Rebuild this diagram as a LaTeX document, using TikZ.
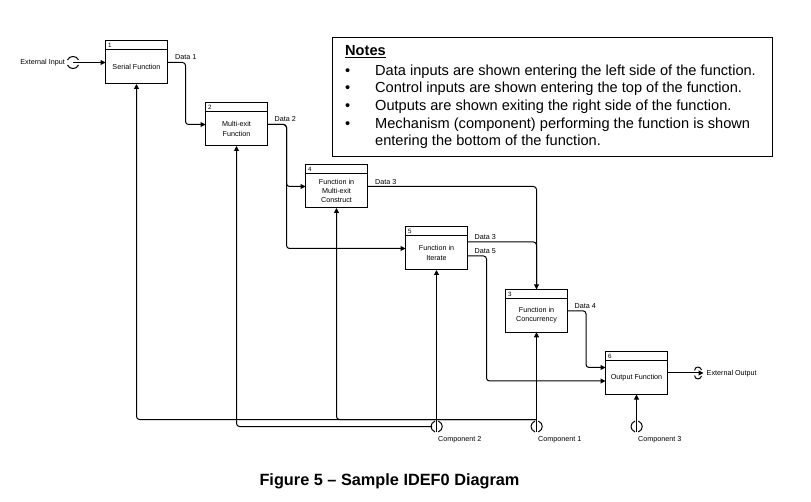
\documentclass[tikz,border=0pt]{standalone}
\usepackage{fontspec}
\setmainfont{Liberation Sans}
\usetikzlibrary{arrows.meta,calc}
\begin{document}
\begin{tikzpicture}[x=1pt,y=-1pt,
  fbox/.style={draw, line width=1pt, minimum width=62pt, minimum height=43pt, inner sep=0pt, outer sep=0pt},
  ftext/.style={font=\fontsize{7.2}{9.4}\selectfont, align=center, inner sep=0pt},
  fnum/.style={font=\fontsize{6.2}{7}\selectfont, anchor=west, inner sep=0pt},
  lbl/.style={font=\fontsize{7.2}{9}\selectfont, anchor=base west, inner sep=0pt},
  flow/.style={draw, line width=1pt, rounded corners=3pt, -{Triangle[length=5pt,width=5pt]}},
  plainln/.style={draw, line width=1pt, rounded corners=3pt},
  tun/.style={draw, line width=1pt},
  notefont/.style={font=\fontsize{14.6}{17.7}\selectfont, inner sep=0pt, anchor=base west},
  vtunnel/.pic={
    \draw[line width=1pt] (-1.5,-5.5) .. controls (-6.8,-3) and (-6.8,3) .. (-1.5,5.5);
    \draw[line width=1pt] (1.8,-5.5) .. controls (7.1,-3) and (7.1,3) .. (1.8,5.5);
  }
]
\useasboundingbox (0,0) rectangle (811,502);

% function boxes
\node[fbox] (b1) at (136.5,62.5) {};
\node[fbox] (b2) at (236.5,124.5) {};
\node[fbox] (b4) at (336.5,186.5) {};
\node[fbox] (b5) at (436.5,248.5) {};
\node[fbox] (b3) at (536.5,310.8) {};
\node[fbox] (b6) at (636.5,373) {};

\foreach \b in {b1,b2,b4,b5,b3,b6}{
  \draw[line width=1pt] ([yshift=-9pt]\b.north west) -- ([yshift=-9pt]\b.north east);
}

\node[fnum] (n1) at ([xshift=2.5pt,yshift=-4.6pt]b1.north west) {1};
\node[fnum] (n2) at ([xshift=2.5pt,yshift=-4.6pt]b2.north west) {2};
\node[fnum] (n4) at ([xshift=2.5pt,yshift=-4.6pt]b4.north west) {4};
\node[fnum] (n5) at ([xshift=2.5pt,yshift=-4.6pt]b5.north west) {5};
\node[fnum] (n3) at ([xshift=2.5pt,yshift=-4.6pt]b3.north west) {3};
\node[fnum] (n6) at ([xshift=2.5pt,yshift=-4.6pt]b6.north west) {6};

\node[ftext] (t1) at ([yshift=-4.5pt]b1.center) {Serial Function};
\node[ftext] (t2) at ([yshift=-4.5pt]b2.center) {Multi-exit\\Function};
\node[ftext] (t4) at ([yshift=-4.5pt]b4.center) {Function in\\Multi-exit\\Construct};
\node[ftext] (t5) at ([yshift=-4.5pt]b5.center) {Function in\\Iterate};
\node[ftext] (t3) at ([yshift=-4.5pt]b3.center) {Function in\\Concurrency};
\node[ftext] (t6) at ([yshift=-4.5pt]b6.center) {Output Function};

% external input
\node[font=\fontsize{7.2}{9}\selectfont, inner sep=0pt, anchor=east] (ein) at (65,62.5) {External Input};
\coordinate (eint) at (73,62.5);
\draw[tun] ($(eint)+(-5.5,-2.5)$) .. controls ($(eint)+(-4,-7.2)$) and ($(eint)+(4,-7.2)$) .. ($(eint)+(5.5,-2.5)$);
\draw[tun] ($(eint)+(-5.5,2.5)$) .. controls ($(eint)+(-4,7.2)$) and ($(eint)+(4,7.2)$) .. ($(eint)+(5.5,2.5)$);
\draw[flow] (eint) -- (b1.west);

% Data 1
\draw[flow] (b1.east) -- ++(18,0) |- (b2.west);
\node[lbl] (d1) at (175,59.5) {Data 1};

% Data 2
\draw[flow] (b2.east) -- ++(19,0) |- (b4.west);
\draw[flow] (b2.east) -- ++(19,0) |- (b5.west);
\node[lbl] (d2) at (274.5,122) {Data 2};

% Data 3 from box 4
\draw[flow] (b4.east) -| (b3.north);
\node[lbl] (d3a) at (375,184.2) {Data 3};

% Data 3 from box 5
\coordinate (d3s) at ([yshift=6.5pt]b5.east);
\draw[plainln] (d3s) -| (b3.north);
\node[lbl] (d3b) at (474.5,239.7) {Data 3};

% Data 5
\coordinate (d5s) at ([yshift=-7.5pt]b5.east);
\coordinate (b6in2) at ([yshift=-8pt]b6.west);
\draw[flow] (d5s) -- ++(19,0) |- (b6in2);
\node[lbl] (d5) at (474.5,253.7) {Data 5};

% Data 4
\coordinate (b6in1) at ([yshift=5.5pt]b6.west);
\draw[flow] (b3.east) -- ++(18.5,0) |- (b6in1);
\node[lbl] (d4) at (574.5,309) {Data 4};

% external output
\coordinate (eout) at (703.5,373);
\draw[flow] (b6.east) -- (eout);
\draw[tun] (694.5,370.5) .. controls (695,366) and (700.5,366) .. (701.5,370);
\draw[tun] (694.5,375.5) .. controls (695,380) and (700.5,380) .. (701.5,376);
\node[font=\fontsize{7.2}{9}\selectfont, inner sep=0pt, anchor=west] (eoutt) at (706.5,374) {External Output};

% mechanisms
\coordinate (c1) at (536.5,431.5);
\coordinate (c1j) at (536.5,419.5);
\coordinate (c2) at (436.5,431.5);
\coordinate (c2w) at (432,426.5);
\coordinate (c3) at (636.5,431.5);

\draw[flow] (c1) -- (b3.south);
\draw[flow] (c1j) -| (b1.south);
\draw[flow] (c1j) -| (b4.south);
\draw[flow] (c2) -- (b5.south);
\draw[flow] (c2w) -| (b2.south);
\draw[flow] (c3) -- (b6.south);

\pic at (436.5,426.5) {vtunnel};
\pic at (536.5,426.5) {vtunnel};
\pic at (636.5,426.5) {vtunnel};

\node[lbl] (c2l) at (438,441.8) {Component 2};
\node[lbl] (c1l) at (538,441.8) {Component 1};
\node[lbl] (c3l) at (638,441.8) {Component 3};

% notes
\node[draw, line width=1.1pt, minimum width=440pt, minimum height=119pt, inner sep=0pt] (notes) at (552.7,97.2) {};
\node[notefont] (nh) at (345,55.2) {\bfseries\underline{Notes}};
\node[notefont] (bu1) at (345,75.2) {•};
\node[notefont] (bu2) at (345,92.9) {•};
\node[notefont] (bu3) at (345,110.6) {•};
\node[notefont] (bu4) at (345,128.3) {•};
\node[notefont] (l1) at (375,75.2) {Data inputs are shown entering the left side of the function.};
\node[notefont] (l2) at (375,92.9) {Control inputs are shown entering the top of the function.};
\node[notefont] (l3) at (375,110.6) {Outputs are shown exiting the right side of the function.};
\node[notefont] (l4) at (375,128.3) {Mechanism (component) performing the function is shown};
\node[notefont] (l5) at (375,146) {entering the bottom of the function.};

% title
\node[font=\bfseries\fontsize{16.3}{19}\selectfont, inner sep=0pt, anchor=base] (title) at (389.5,485.8) {Figure 5 \textendash{} Sample IDEF0 Diagram};
\end{tikzpicture}
\end{document}
